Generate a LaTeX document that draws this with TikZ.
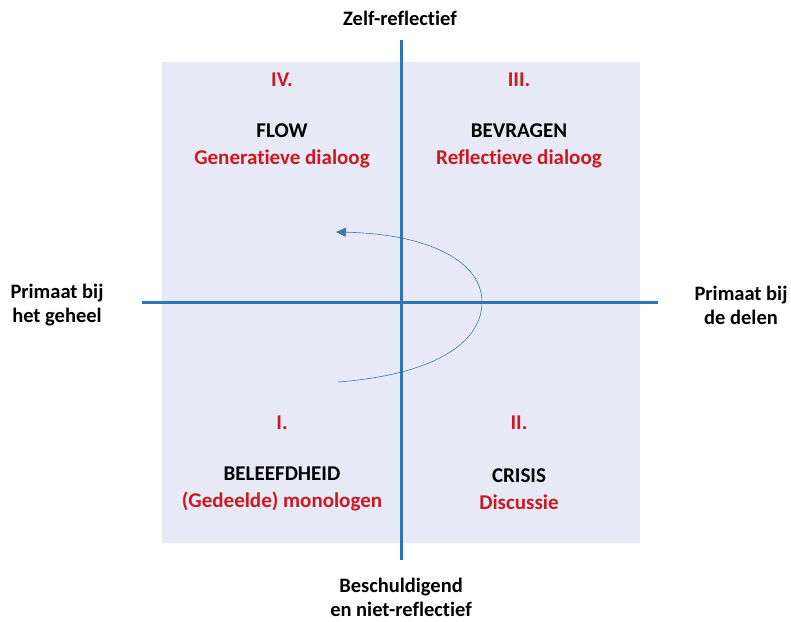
\documentclass[tikz,border=0pt]{standalone}
\usepackage{fontspec}
\setmainfont{Carlito}[Ligatures=NoCommon]
\usetikzlibrary{arrows.meta}
\definecolor{axisblue}{RGB}{46,117,182}
\definecolor{quadbg}{RGB}{231,234,246}
\definecolor{labelred}{RGB}{204,24,32}
\tikzset{
  axis/.style={axisblue, line width=3pt},
  num/.style={font=\bfseries\fontsize{21}{27}\selectfont, text=labelred},
  title/.style={font=\bfseries\fontsize{21}{27}\selectfont, align=center},
  side/.style={font=\bfseries\fontsize{20.5}{24}\selectfont, align=center}
}
\begin{document}
\begin{tikzpicture}[x=1pt,y=-1pt]
    \useasboundingbox (0,0) rectangle (791,621);
    \fill[quadbg] (162,62) rectangle (640,543); % Background
    \coordinate (top) at (401,40);
    \coordinate (bottom) at (401,560);
    \coordinate (left) at (142,302);
    \coordinate (right) at (658,302);
    \draw[axis] (top) -- (bottom);
    \draw[axis] (left) -- (right);
    % Quadrants
    \foreach \name/\x/\y/\num/\head/\sub in {
        four/282/80/IV./FLOW/Generatieve dialoog,
        three/519/80/III./BEVRAGEN/Reflectieve dialoog,
        one/282/423/I./BELEEFDHEID/(Gedeelde) monologen,
        two/519/423/II./CRISIS/Discussie}{
        \node[num] (\name-num) at (\x,\y) {\num};
        \node[title] (\name) at (\x,\y+66) {\head\\\textcolor{labelred}{\sub}};
    }
    % Axis labels
    \node[side] (selfrefl) at (400,18) {Zelf-reflectief};
    \node[side] (blame) at (401,597) {Beschuldigend\\en niet-reflectief};
    \node[side] (whole) at (57,305) {Primaat bij\\het geheel};
    \node[side] (parts) at (741,305) {Primaat bij\\de delen};
    % Spiral
    \coordinate (spiral-start) at (338,382);
    \coordinate (spiral-turn) at (482,302);
    \coordinate (spiral-end) at (336,232);
    \draw[axisblue!80!gray, line width=0.6pt, -{Triangle[length=10pt,width=9pt]}]
        (spiral-start) .. controls (440,374) and (482,340) .. (spiral-turn)
        .. controls (482,262) and (430,234) .. (spiral-end);
\end{tikzpicture}
\end{document}
